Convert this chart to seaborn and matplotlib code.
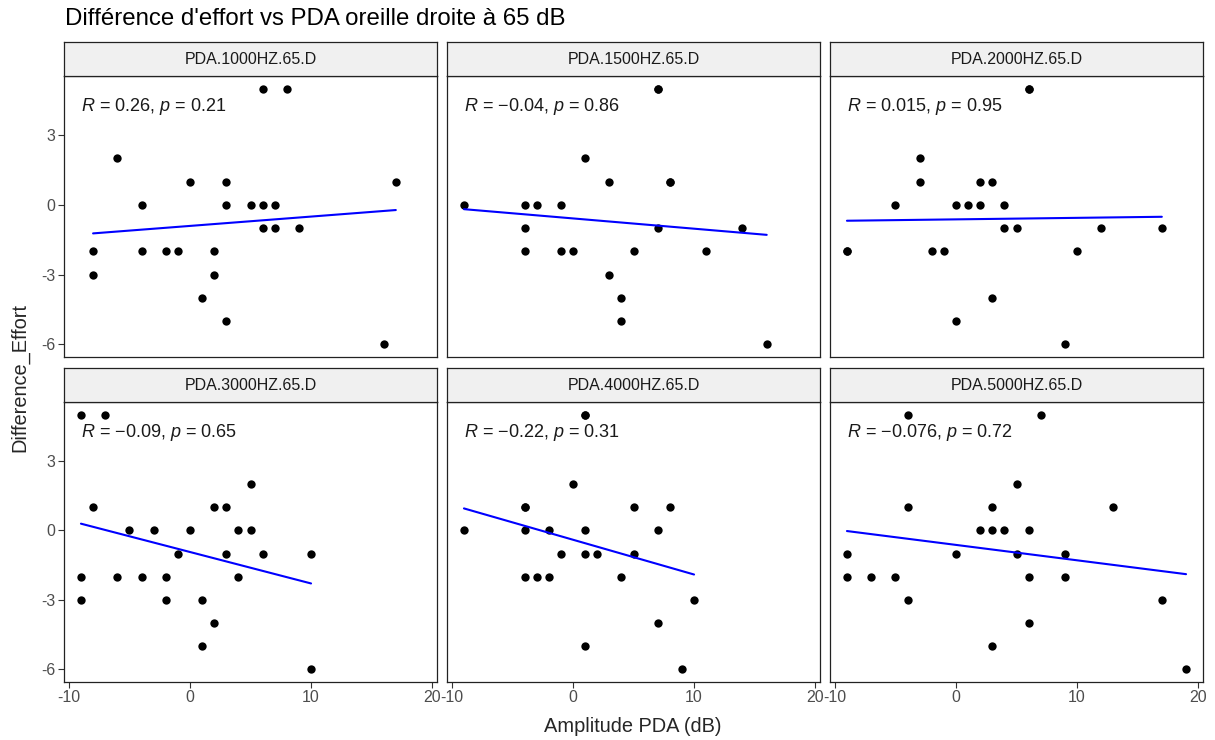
import pandas as pd
import matplotlib.pyplot as plt
import seaborn as sns

# Data (one list pair per facet,
# a few overlapping points estimated from the fitted lines)
freqs = ['PDA.1000HZ.65.D', 'PDA.1500HZ.65.D', 'PDA.2000HZ.65.D',
         'PDA.3000HZ.65.D', 'PDA.4000HZ.65.D', 'PDA.5000HZ.65.D']

x_1000 = [6, 8, -6, 0, 3, 17, -4, 3, 5, 6, 7, 6, 7, 9, -8, -4, -2, -1, 2, -8, 2, 1, 3, 16]
y_1000 = [5, 5, 2, 1, 1, 1, 0, 0, 0, 0, 0, -1, -1, -1, -2, -2, -2, -2, -2, -3, -3, -4, -5, -6]

x_1500 = [7, 7, 1, 3, 8, 8, -9, -4, -3, -1, -4, 7, 14, -4, -1, 0, 5, 11, 3, 4, 4, 16]
y_1500 = [5, 5, 2, 1, 1, 1, 0, 0, 0, 0, -1, -1, -1, -2, -2, -2, -2, -2, -3, -4, -5, -6]

x_2000 = [6, 6, -3, -3, 2, 3, -5, 0, 1, 2, 4, 4, 5, 12, 17, -9, -9, -2, -1, 10, 3, 0, 9]
y_2000 = [5, 5, 2, 1, 1, 1, 0, 0, 0, 0, 0, -1, -1, -1, -1, -2, -2, -2, -2, -2, -4, -5, -6]

x_3000 = [-9, -7, 5, -8, 2, 3, -5, -3, 0, 4, 5, -1, 3, 6, 10, -9, -6, -4, -2, 4, -9, -2, 1, 2, 1, 10]
y_3000 = [5, 5, 2, 1, 1, 1, 0, 0, 0, 0, 0, -1, -1, -1, -1, -2, -2, -2, -2, -2, -3, -3, -3, -4, -5, -6]

x_4000 = [1, 1, 0, -4, -4, 5, 8, -9, -4, -2, 1, 7, -1, 1, 2, 5, -4, -3, -2, 4, 10, 7, 1, 9]
y_4000 = [5, 5, 2, 1, 1, 1, 1, 0, 0, 0, 0, 0, -1, -1, -1, -1, -2, -2, -2, -2, -3, -4, -5, -6]

x_5000 = [-4, 7, 5, -4, 3, 13, 2, 3, 4, 6, -9, 0, 5, 9, -9, -7, -5, 6, 9, -4, 17, 6, 3, 19]
y_5000 = [5, 5, 2, 1, 1, 1, 0, 0, 0, 0, -1, -1, -1, -1, -2, -2, -2, -2, -2, -3, -3, -4, -5, -6]

cor_R = ['0.26', '\u22120.04', '0.015', '\u22120.09', '\u22120.22', '\u22120.076']
cor_p = ['0.21', '0.86', '0.95', '0.65', '0.31', '0.72']

x_ticks = [-10, 0, 10, 20]
x_tick_labels = ['-10', '0', '10', '20']
y_ticks = [-6, -3, 0, 3]
y_tick_labels = ['-6', '-3', '0', '3']

xs = [x_1000, x_1500, x_2000, x_3000, x_4000, x_5000]
ys = [y_1000, y_1500, y_2000, y_3000, y_4000, y_5000]
df = pd.concat([pd.DataFrame({'PDA': x, 'Difference_Effort': y, 'freq': f})
                for x, y, f in zip(xs, ys, freqs)], ignore_index=True)

sns.set_style('white')
plt.rcParams['font.family'] = ['Liberation Sans', 'DejaVu Sans']
plt.rcParams['mathtext.fontset'] = 'custom'
plt.rcParams['mathtext.rm'] = 'Liberation Sans'
plt.rcParams['mathtext.it'] = 'Liberation Sans:italic'

g = sns.lmplot(data=df, x='PDA', y='Difference_Effort', col='freq', col_wrap=3,
               col_order=freqs, ci=None, truncate=True,
               scatter_kws={'color': 'black', 's': 36, 'linewidths': 0, 'alpha': 1},
               line_kws={'color': 'blue', 'linewidth': 1.5},
               facet_kws={'despine': False})
fig = g.figure
fig.set_size_inches(12.15, 7.4)
W, H = 1215, 740

g.set_titles('')
g.set_axis_labels('', '')

col_left = [64, 447, 830]
panel_w = 373
rows = [(76, 357), (402, 682)]
strip_h = 34

for i, ax in enumerate(g.axes.flat):
    r, c = divmod(i, 3)
    top, bot = rows[r]
    ax.set_position([col_left[c] / W, 1 - bot / H, panel_w / W, (bot - top) / H])
    ax.set_xlim(-10.4, 20.4)
    ax.set_ylim(-6.55, 5.55)
    ax.set_xticks(x_ticks)
    ax.set_yticks(y_ticks)
    for s in ax.spines.values():
        s.set_visible(True)
        s.set_color('#222222')
        s.set_linewidth(0.9)
    ax.tick_params(axis='both', colors='#333333', labelcolor='#4D4D4D',
                   labelsize=11.5, length=4, width=0.8, pad=2)
    if c == 0:
        ax.set_yticklabels(y_tick_labels)
        ax.tick_params(axis='y', left=True, labelleft=True)
    else:
        ax.tick_params(axis='y', left=False, labelleft=False)
    if r == 1:
        ax.set_xticklabels(x_tick_labels)
        ax.tick_params(axis='x', bottom=True, labelbottom=True)
    else:
        ax.tick_params(axis='x', bottom=False, labelbottom=False)
    ax.text(0.045, 0.89, f'$R$ = {cor_R[i]}, $p$ = {cor_p[i]}',
            transform=ax.transAxes, ha='left', va='center', fontsize=13, color='#1A1A1A')

    # facet strip
    sax = fig.add_axes([col_left[c] / W, 1 - top / H, panel_w / W, strip_h / H])
    sax.set_facecolor('#F0F0F0')
    sax.set_xticks([])
    sax.set_yticks([])
    for s in sax.spines.values():
        s.set_color('#222222')
        s.set_linewidth(0.9)
    sax.text(0.5, 0.5, freqs[i], ha='center', va='center', fontsize=11.5, color='#1A1A1A')

fig.text(65 / W, 1 - 19 / H, "Différence d'effort vs PDA oreille droite à 65 dB",
         ha='left', va='center', fontsize=17.3, color='black')
fig.text(633 / W, 1 - 727 / H, 'Amplitude PDA (dB)', ha='center', va='center', fontsize=14.4)
fig.text(20 / W, 1 - 378 / H, 'Difference_Effort', ha='center', va='center',
         rotation=90, fontsize=14.4)

fig.savefig('out.png', dpi=100)
